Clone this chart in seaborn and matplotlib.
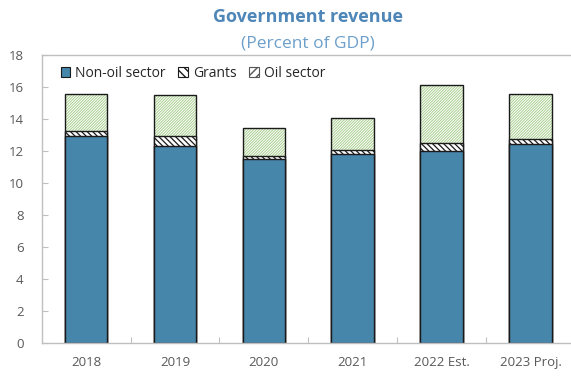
import matplotlib
matplotlib.use("Agg")
import matplotlib.pyplot as plt
from matplotlib.patches import Patch
import numpy as np
import pandas as pd
import seaborn as sns

# Government revenue components, percent of GDP
years = ["2018", "2019", "2020", "2021", "2022 Est.", "2023 Proj."]
non_oil = [12.9, 12.3, 11.5, 11.8, 12.0, 12.4]
grants = [0.35, 0.6, 0.2, 0.25, 0.5, 0.35]
oil = [2.3, 2.6, 1.7, 2.0, 3.6, 2.8]
y_ticks = [0, 2, 4, 6, 8, 10, 12, 14, 16, 18]

BLUE = "#4786ab"
GREEN = "#a9cf8f"
EDGE = "#1a1a1a"
TEXT = "#595959"
SPINE = "#bfbfbf"

OIL_HATCH = "/" * 12
GRANT_HATCH = "\\" * 6

sns.set_theme(style="white")
plt.rcParams["font.family"] = ["Open Sans", "DejaVu Sans"]

df = pd.DataFrame({"year": years, "non_oil": non_oil, "grants": grants, "oil": oil})
df["lvl_grants"] = df["non_oil"] + df["grants"]
df["lvl_total"] = df["lvl_grants"] + df["oil"]

fig = plt.figure(figsize=(5.71, 3.76), dpi=100)
ax = fig.add_axes([0.073, 0.087, 0.934, 0.7675])

W = 0.48

def layer(col, face, edge, hatch=None, lw=0.0, hlw=None):
    before = len(ax.patches)
    sns.barplot(data=df, x="year", y=col, order=years, color=face, saturation=1,
                width=W, edgecolor=edge, linewidth=lw, hatch=hatch, ax=ax,
                errorbar=None)
    for p in ax.patches[before:]:
        p.set_facecolor(face)
        p.set_edgecolor(edge)
        if hlw is not None and hasattr(p, "set_hatch_linewidth"):
            p.set_hatch_linewidth(hlw)

# Stack is drawn from the top segment down; each lower segment covers the one above.
layer("lvl_total", "white", GREEN, hatch=OIL_HATCH, hlw=0.7)
layer("lvl_total", "none", EDGE, lw=1.0)
layer("lvl_grants", "white", EDGE, hatch=GRANT_HATCH, hlw=0.9)
layer("lvl_grants", "none", EDGE, lw=1.0)
layer("non_oil", BLUE, EDGE, lw=1.0)

ax.set_xlim(-0.5, 5.5)
ax.set_ylim(0, 18)
ax.set_yticks(y_ticks)
ax.set_xlabel("")
ax.set_ylabel("")

# category boundary ticks on the x axis, labels centred under bars
ax.set_xticks(np.arange(len(years)))
ax.set_xticklabels(years)
ax.set_xticks(np.arange(len(years) - 1) + 0.5, minor=True)
ax.tick_params(axis="x", which="major", length=0, pad=9, labelsize=9.5, labelcolor=TEXT)
ax.tick_params(axis="x", which="minor", direction="in", length=4, width=0.8, color=SPINE)
ax.tick_params(axis="y", direction="in", length=4, width=0.8, color=SPINE,
               pad=13, labelsize=9.5, labelcolor=TEXT)
ax.yaxis.set_tick_params(left=True)
ax.xaxis.set_tick_params(which="minor", bottom=True)

for s in ["left", "bottom", "top"]:
    ax.spines[s].set_visible(True)
    ax.spines[s].set_color(SPINE)
    ax.spines[s].set_linewidth(1.0)
ax.spines["right"].set_visible(False)

handles = [
    Patch(facecolor=BLUE, edgecolor=EDGE, linewidth=0.8, label="Non-oil sector"),
    Patch(facecolor="white", edgecolor=EDGE, linewidth=0.8, hatch="\\\\\\\\", label="Grants"),
    Patch(facecolor="white", edgecolor="#555555", linewidth=0.8, hatch="////", label="Oil sector"),
]
leg = ax.legend(handles=handles, loc="upper left", bbox_to_anchor=(0.02, 0.99), ncol=3,
                frameon=False, fontsize=10, handlelength=0.7, handleheight=0.7,
                handletextpad=0.35, columnspacing=0.9, borderaxespad=0.2)
for t in leg.get_texts():
    t.set_color("#262626")

fig.text(0.54, 0.955, "Government revenue", ha="center", va="center",
         fontsize=13, fontweight="bold", color="#4f86b8")
fig.text(0.54, 0.883, "(Percent of GDP)", ha="center", va="center",
         fontsize=12.5, color="#6c9fcb")

fig.savefig("out.png", dpi=100)
